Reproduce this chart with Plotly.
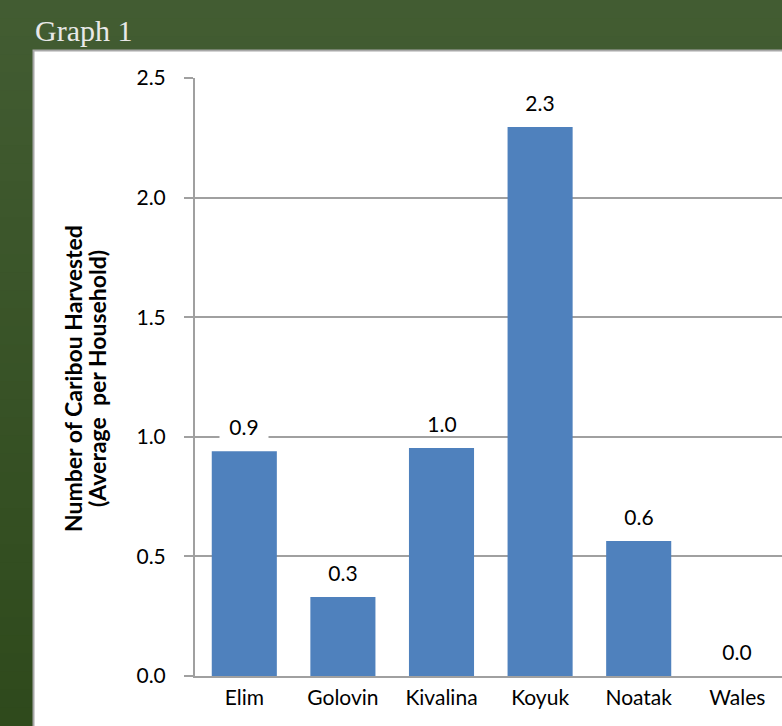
import plotly.graph_objects as go

# ---- data ----
communities = ["Elim", "Golovin", "Kivalina", "Koyuk", "Noatak", "Wales"]
caribou_per_household = [0.94, 0.33, 0.953, 2.295, 0.564, 0.0]
y_ticks = [0.0, 0.5, 1.0, 1.5, 2.0, 2.5]
y_title_lines = ["Number of Caribou Harvested", "(Average  per Household)"]

# ---- layout geometry (pixels) ----
FIG_W, FIG_H = 782, 726
L, R, T, B = 195, 0, 78, 50
PW = FIG_W - L - R
PH = FIG_H - T - B

def px_x(px):
    return (px - L) / PW

def px_y(py):
    return (FIG_H - B - py) / PH

FONT = "Lato, Calibri, Carlito, sans-serif"
FS = 21
BAR_COLOR = "#4F81BD"
GRID = "#a0a0a0"

fig = go.Figure()
fig.add_trace(go.Bar(
    x=communities,
    y=caribou_per_household,
    marker=dict(color=BAR_COLOR, line=dict(width=0)),
    width=0.66,
    hoverinfo="x+y",
))

shapes = []
# gradient background (dark green)
n_bands = 40
top_c = (66, 92, 50)
bot_c = (47, 74, 28)
for i in range(n_bands):
    f = i / (n_bands - 1)
    c = tuple(int(round(top_c[k] + (bot_c[k] - top_c[k]) * f)) for k in range(3))
    y0 = i * FIG_H / n_bands
    y1 = (i + 1) * FIG_H / n_bands + 1
    shapes.append(dict(
        type="rect", xref="paper", yref="paper",
        x0=px_x(0), x1=px_x(FIG_W + 5), y0=px_y(y1), y1=px_y(y0),
        fillcolor="rgb(%d,%d,%d)" % c, line=dict(width=0), layer="below",
    ))
# white panel with gray border
shapes.append(dict(
    type="rect", xref="paper", yref="paper",
    x0=px_x(33.5), x1=px_x(FIG_W + 10), y0=px_y(FIG_H + 10), y1=px_y(50.5),
    fillcolor="white", line=dict(color="#a8a8a8", width=2), layer="below",
))

annotations = []
# value labels with white background boxes
for c, v in zip(communities, caribou_per_household):
    annotations.append(dict(
        x=c, y=v, xref="x", yref="y",
        text="%.1f" % v, showarrow=False,
        yanchor="middle", yshift=25,
        font=dict(family=FONT, size=FS, color="#000000"),
        bgcolor="white", borderpad=0, width=48, height=23,
    ))
# y axis title (two lines, tight spacing)
for line, xpx in zip(y_title_lines, [73, 97]):
    annotations.append(dict(
        x=px_x(xpx), y=px_y(379), xref="paper", yref="paper",
        text="<b>%s</b>" % line,
        showarrow=False, textangle=-90, xanchor="center", yanchor="middle",
        font=dict(family=FONT, size=23, color="#000000"),
    ))
# header
annotations.append(dict(
    x=px_x(33), y=px_y(31), xref="paper", yref="paper",
    text="Graph 1", showarrow=False, xanchor="left", yanchor="middle",
    font=dict(family="Liberation Serif, Times New Roman, serif", size=30, color="#e8e8e8"),
))

fig.update_layout(
    width=FIG_W, height=FIG_H,
    margin=dict(l=L, r=R, t=T, b=B, pad=0),
    paper_bgcolor="rgb(58,82,40)",
    plot_bgcolor="rgba(0,0,0,0)",
    showlegend=False,
    shapes=shapes,
    annotations=annotations,
    xaxis=dict(
        range=[-0.5, PW / 98.6 - 0.5],
        showline=True, linecolor=GRID, linewidth=2,
        showgrid=False, ticks="", zeroline=False,
        tickfont=dict(family=FONT, size=FS, color="#000000"),
        ticklabelstandoff=2,
    ),
    yaxis=dict(
        range=[0, 2.5], tickvals=y_ticks, tickformat=".1f",
        showline=True, linecolor=GRID, linewidth=2,
        showgrid=True, gridcolor=GRID, gridwidth=1.5,
        ticks="outside", ticklen=9, tickcolor=GRID, tickwidth=1.5,
        zeroline=False,
        tickfont=dict(family=FONT, size=FS, color="#000000"),
        ticklabelstandoff=14,
    ),
)

fig.write_html("out.html")
